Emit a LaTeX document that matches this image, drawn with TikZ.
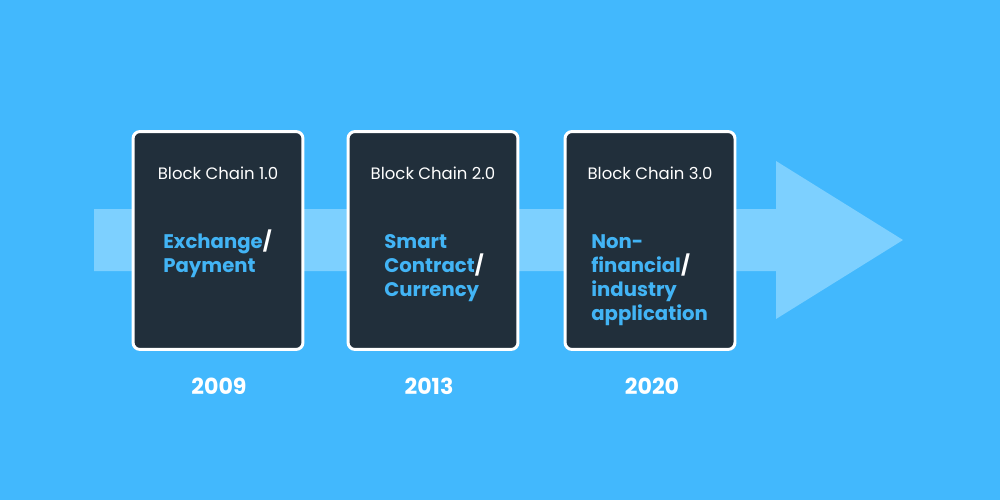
\documentclass[tikz,border=0pt]{standalone}
\usepackage{fontspec}
\setmainfont{Poppins}
\definecolor{bg}{HTML}{42B8FD}
\definecolor{arrowc}{HTML}{7DD0FF}
\definecolor{cardc}{HTML}{212F3B}
\definecolor{txtblue}{HTML}{42B4F5}
\newcommand{\firstline}{\rule{0pt}{11pt}}
\begin{document}
\begin{tikzpicture}[x=0.02cm,y=-0.02cm,
  card/.style={draw=white,line width=1.7pt,fill=cardc,rounded corners=4pt,
    minimum width=3.4cm,minimum height=4.36cm,inner sep=0pt},
  title/.style={text=white,font=\fontsize{9.4}{11}\selectfont,inner sep=0pt},
  body/.style={text=txtblue,font=\fontsize{11.2}{13.6}\selectfont\bfseries,
    align=left,anchor=north west,inner sep=0pt},
  year/.style={text=white,font=\fontsize{12.6}{14}\selectfont\bfseries,inner sep=0pt}]
\fill[bg] (0,0) rectangle (1000,500);
\useasboundingbox (0,0) rectangle (1000,500);
\fill[arrowc] (94,209) -- (776,209) -- (776,161) -- (903,240) -- (776,319) -- (776,271) -- (94,271) -- cycle;
\node[card] (c1) at (218,240.5) {};
\node[card] (c2) at (433,240.5) {};
\node[card] (c3) at (650,240.5) {};
\node[title] (t1) at (218,173) {Block Chain 1.0};
\node[title] (t2) at (433,173) {Block Chain 2.0};
\node[title] (t3) at (650,173) {Block Chain 3.0};
\node[body] (b1) at (163,229) {\firstline Exchange\textcolor{white}{/}\\Payment};
\node[body] (b2) at (384,229) {\firstline Smart\\Contract\textcolor{white}{/}\\Currency};
\node[body] (b3) at (591,229) {\firstline Non-\\financial\textcolor{white}{/}\\industry\\application};
\node[year] (y1) at (219,386) {2009};
\node[year] (y2) at (429,386) {2013};
\node[year] (y3) at (652,386) {2020};
\end{tikzpicture}
\end{document}
